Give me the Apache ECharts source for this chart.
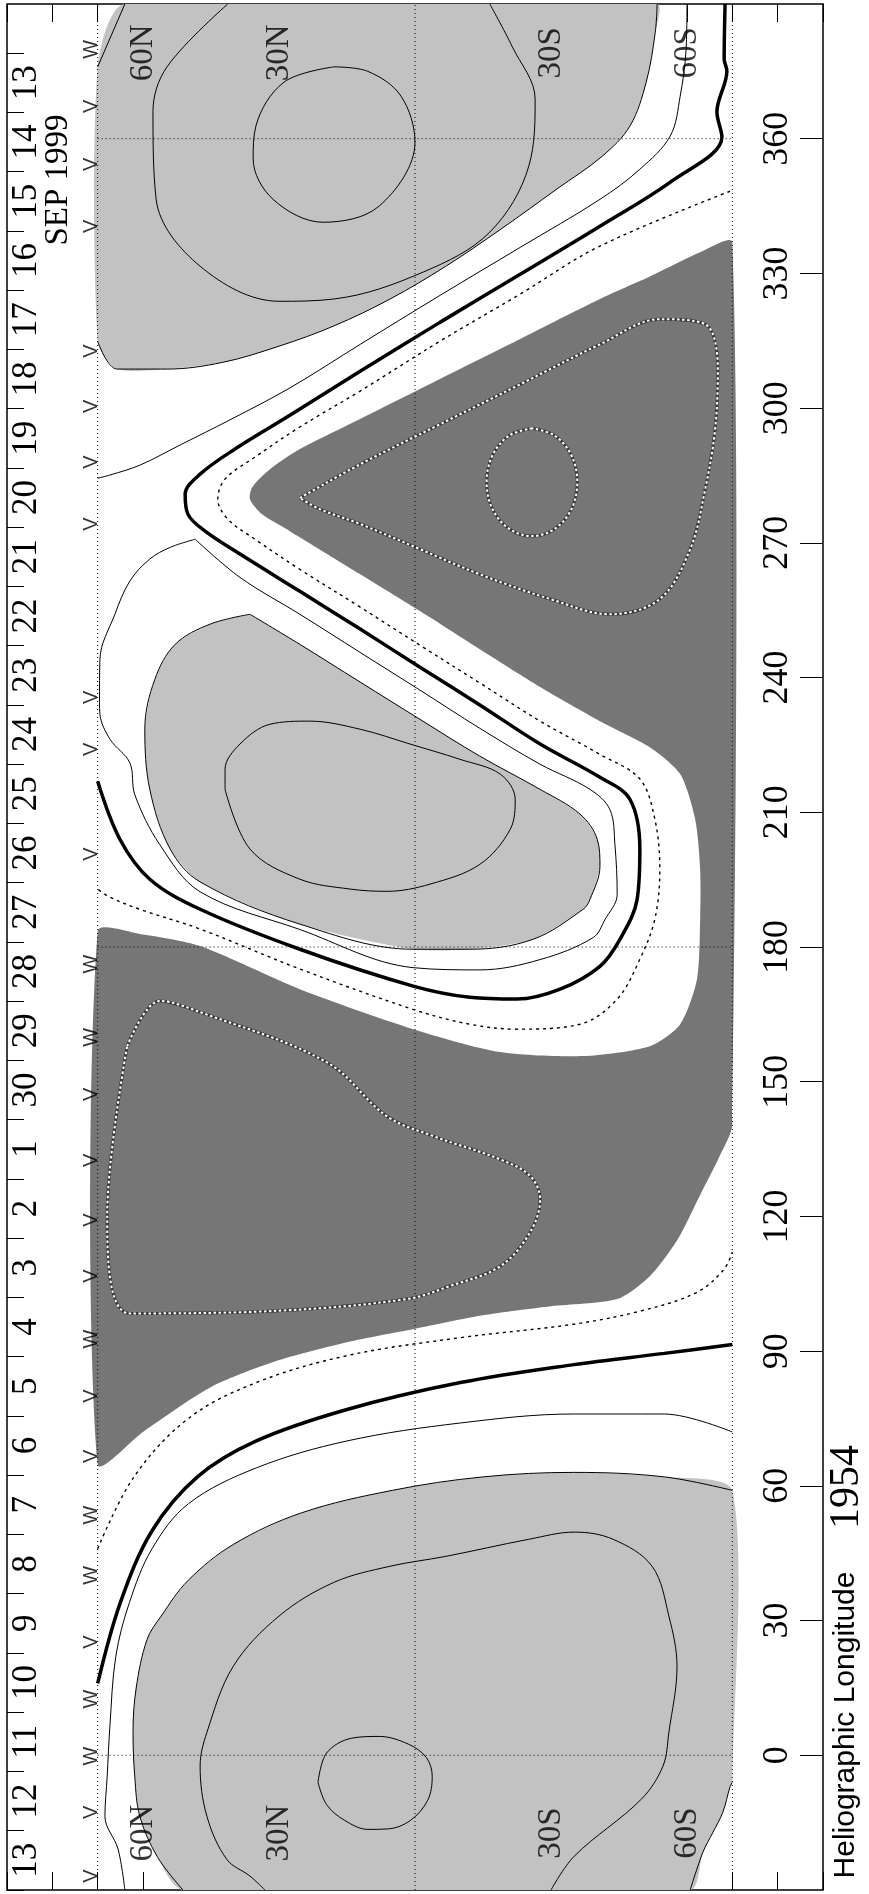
<!DOCTYPE html>
<html><head><meta charset="utf-8">
<script src="https://cdn.jsdelivr.net/npm/echarts@6/dist/echarts.min.js"></script>
<style>html,body{margin:0;padding:0;background:#fff}#c{width:869px;height:1894px}</style>
</head><body><div id="c"></div>
<script>
// ---- axis / label data ----
const lonTicks = [0,30,60,90,120,150,180,210,240,270,300,330,360];
const latLabelValues = [60,30,-30,-60];
const latLabelNames = ['60N','30N','30S','60S'];
const latLabelLon = [379.1,-17.3];   // top row, bottom row
const dateLabels = ['13','14','15','16','17','18','19','20','21','22','23','24','25','26','27','28','29','30','1','2','3','4','5','6','7','8','9','10','11','12','13'];
const markLon = [379.9,367.2,354.3,340.5,312.7,300.4,288,274.2,235.6,224,200.7,176.2,159.9,147.2,132.5,119.2,106.7,92.7,80,66.6,53.5,40.1,25.2,12.5,-0.2,-12.7,-26.9];
const markSym = ['W','V','V','V','V','V','V','V','V','V','V','W','W','V','V','V','V','W','V','V','W','W','V','W','W','V','V'];
const markLat = 71.3;

// ---- shaded regions [lat, lon] ----
const lightA = [[64,390],[-53.4,390],[-53,383.7],[-51,372.6],[-47.4,362.8],[-41.3,356.1],[-31.3,348.8],[-19,339.9],[-6.8,331.6],[5.5,324.3],[17.9,318.3],[30,313.8],[42.4,310.2],[54.7,308.7],[65.7,308.7],[70,314.9],[70,376]];
const lightB = [[36.4,254.1],[25.4,247.4],[12.1,239],[-1.1,230.7],[-14.3,222.5],[-27.6,215.1],[-36.4,209.6],[-40.2,204],[-40.8,198],[-38.6,190.6],[-37.1,188.4],[-26,181.7],[-12.1,179.5],[0.4,179.5],[25.4,185.1],[47.4,194.5],[54,201.8],[58.5,215.1],[59.6,228.5],[57.4,239.6],[52.9,247.4],[45.2,251.9],[36.4,254.1]];
const lightE = [[-70,59],[-55,62],[-35,63],[-15,62],[5,59],[25,54],[40,47],[50,39],[56,31],[59.1,25.8],[61.5,15],[62.2,5.1],[61.8,-5],[60.7,-13.6],[56.9,-22.5],[51.2,-30],[-60.7,-30],[-63.5,-21.6],[-65.7,-17.2],[-67.9,-12.7],[-69.5,-7],[-70,-6]];
const darkCD = [[-70,336.9],[-62.9,334.7],[-51.8,329.3],[-40.8,324.3],[-23.2,315.4],[-5.5,306.5],[12.1,297.6],[25.4,290.9],[32,286.4],[35.9,282.4],[36.4,279.7],[33.8,276.4],[27.6,272.6],[12.1,263],[-1.1,254.8],[-14.3,246.3],[-27.6,237.9],[-40.8,230.3],[-51.8,224.5],[-58.5,218.5],[-61.8,208.5],[-62.9,197.3],[-62.9,186.2],[-62.2,172.8],[-58.5,162.8],[-51.8,157.9],[-37.1,155.7],[-18.8,156.6],[0.4,161.7],[25.4,170.6],[47.4,180.2],[60.7,182.9],[70,183.5],[70,64.8],[60,72],[45,82],[30,88],[15,92],[0,95],[-15,98],[-30,100],[-44.6,101.6],[-51.8,106.7],[-58,115],[-63,125],[-67,133],[-70,140.5]];

// ---- contour lines [lat, lon] ----
const aEdgeLow = [[70,314.9],[65.7,308.7],[54.7,308.7],[42.4,310.2],[30,313.8],[17.9,318.3],[5.5,324.3],[-6.8,331.6],[-19,339.9],[-31.3,348.8],[-41.3,356.1],[-47.4,362.8],[-51,372.6],[-53,383.7],[-53.4,390]];
const aEdgeTop = [[70,376],[64,390]];
const aU = [[41.3,390],[54.7,376],[57.8,366],[57.1,346.5],[47.4,331.6],[30,323.8],[17.9,324.3],[-1.8,330.3],[-16.5,339.2],[-25.1,353.9],[-26.5,368.8],[-21.4,380.6],[-16.5,390]];
const aIn = [[17.9,376],[28.9,372.6],[35.1,362.8],[35.7,355.5],[31.3,346.5],[20.3,341.4],[7.9,345],[0,359.2],[3.1,369.5],[10.4,375],[17.9,376]];
const thin1 = [[-60,390],[-59.8,379.9],[-58.5,369.5],[-56.3,360.6],[-49.6,353.2],[-40.8,346.5],[-23.2,335.8],[-5.5,325.1],[12.1,314.2],[27.6,304.5],[40.8,297.4],[51.8,291.8],[60.7,287.3],[67.3,285.1],[70,284.4]];
const thick1 = [[-68.4,390],[-68.2,377.7],[-68.8,375.1],[-66.6,366],[-67.7,360.4],[-56.7,350.6],[-40.8,340.5],[-23.2,329.8],[-5.5,319.1],[12.1,308.2],[27.6,298.4],[39.7,290.9],[47.4,285.3],[50.7,280.8],[50.1,276.4],[46.3,272.6],[38.6,267.5],[25.4,259.2],[12.1,250.8],[-1.1,242.3],[-14.3,233.9],[-27.6,225.2],[-40.8,217.8],[-47.4,212.9],[-49.6,201.8],[-49,190.6],[-45.2,181.7],[-40.8,175.7],[-32,170.6],[-22.5,168.4],[-12.1,168.8],[0.4,171.3],[25.4,179.5],[47.4,188.4],[58.5,195.1],[65.1,204],[70,216.9]];
const dot1 = [[-69.5,348.3],[-40.8,336.1],[-23.2,325.4],[-5.5,314.9],[12.1,303.8],[25.4,295.8],[35.3,289.1],[41.9,284.2],[43.5,279.7],[41.3,275.3],[35.3,270.8],[25.4,264.1],[12.1,255.7],[-1.1,247.2],[-14.3,238.8],[-27.6,230.3],[-40.8,222.9],[-49.6,217.4],[-52.9,208.5],[-54,197.3],[-52.9,186.2],[-49.6,177.3],[-44.6,168.4],[-36.4,162.8],[-22.5,161.7],[-12.1,162.8],[0.4,166.1],[25.4,175.1],[47.4,184],[60.7,188.4],[67.3,191.1],[70,192.9]];
const thin2 = [[48.5,270.8],[38.6,262.3],[25.4,254.1],[12.1,245.6],[-1.1,237.2],[-14.3,228.7],[-27.6,220.7],[-38.6,215.1],[-43,210.6],[-44.1,202.8],[-44.6,191.7],[-41.9,186.1],[-39.3,182.1],[-27.6,177.2],[-14.3,174.9],[0.4,175.4],[25.4,183.9],[47.4,192.3],[56.3,202.8],[61.8,213.9],[62.9,221],[67.3,226.3],[69.5,231.8],[69.6,234.5],[69.5,244.1],[66.2,254.1],[62.9,261.5],[58.5,266.4],[54,269],[48.5,270.8]];
const bIn = [[41.9,215.1],[36.4,201.8],[25.4,195.1],[14.3,192.9],[6.2,192.4],[-3.3,194],[-14.3,198.4],[-21,206.2],[-22.1,212.9],[-18.8,218.5],[-9.9,221.8],[1.1,225.2],[12.1,228.5],[23.2,230.3],[32,229.6],[38.6,225.2],[41.9,219.6],[41.9,215.1]];
const cLoop = [[25.4,280],[12.1,287.5],[-5.5,296.4],[-23.2,305.3],[-40.8,314.2],[-54,319.8],[-64,318.7],[-66.8,308.7],[-66.2,295.3],[-64,281.9],[-60.7,268.6],[-54,257.5],[-43,254.1],[-29.8,257.5],[-14.3,263],[-1.1,268.6],[12.1,274.2],[21,277.5],[25.4,280]];
const cIn = [[-25.8,295.5],[-20.8,293.9],[-17.1,289.5],[-15.8,283.5],[-17.1,277.5],[-20.8,273.1],[-25.8,271.5],[-30.8,273.1],[-34.5,277.5],[-35.8,283.5],[-34.5,289.5],[-30.8,293.9],[-25.8,295.5]];
const dLoop = [[63.5,157.9],[56.3,168],[47.4,165.5],[19.4,154.3],[6.2,142.3],[-4,137.9],[-18.8,132.7],[-25.4,129],[-27.6,123.8],[-25.4,116.5],[-18.8,108.9],[-7.7,104.5],[1.8,101.6],[30,99],[62.9,98.4],[67.9,120],[63.5,157.9]];
const eEdge = [[-70,59],[-55,62],[-35,63],[-15,62],[5,59],[25,54],[40,47],[50,39],[56,31],[59.1,25.8],[61.5,15],[62.2,5.1],[61.8,-5],[60.7,-13.6],[56.9,-22.5],[51.2,-30]];
const eEdgeCorner = [[-60.7,-30],[-63.5,-21.6],[-65.7,-17.2],[-67.9,-12.7],[-69.5,-7],[-70,-6]];
const eU = [[33.1,-30],[36.4,-26.9],[41.5,-23.2],[45.9,-13.6],[47.4,-2.4],[45.9,5.1],[40.1,19.8],[30,31],[17.9,38.5],[5.5,42.1],[-6.8,44.3],[-25.1,48.1],[-35.1,49.7],[-43.7,48.1],[-52.3,42.1],[-56,31],[-57.8,19.8],[-56,5.1],[-54.7,-2.4],[-49.9,-9.8],[-35.1,-22.5],[-30,-30]];
const eIn = [[21.4,-6],[19.5,0.5],[14,3.8],[7.9,4.2],[1.5,2.5],[-2.5,-0.5],[-3.8,-4.7],[-2.8,-10],[1,-14.5],[6,-16.4],[10.4,-16.5],[15.5,-14.5],[19.5,-11],[21.4,-6]];
const thin3 = [[-70,72],[-55,76],[-35,76],[-10,74],[15,70],[35,64],[50,56],[58,46],[63,34],[66,22],[67.3,6.5],[67.9,-4.7],[68.4,-13.6],[65.5,-20.9],[64,-30]];
const thick2 = [[70,16],[65,34],[58,50],[48,62],[35,70],[15,77],[-10,83],[-35,87],[-55,89.5],[-70,91.5]];
const dot2 = [[70,46],[62,62],[50,75],[35,83],[15,89],[-10,93],[-35,96],[-50,99],[-62,103],[-68,108],[-70,112]];
// dotted reference grid: meridian / parallel positions
const gridLat = [70,0,-70];
const gridLon = [0,180,360];

// ---- styles ----
const LIGHT = '#c2c2c2', DARK = '#767676';
const thinS = {color:'#000', width:1};
const thickS = {color:'#000', width:3.5};
const dotS = {color:'#000', width:1.4, type:[3,4]};
const wBase = {color:'#3a3a3a', width:3};
const wDot = {color:'#fff', width:2, type:[2.5,2.5]};
const gridS = {color:'#000', width:1, type:[1,3]};
const SERIF = 'Liberation Serif';

function lineS(data, style, extra) {
  return Object.assign({type:'line', data, xAxisIndex:0, yAxisIndex:0, symbol:'none', showSymbol:false,
    smooth:0.35, lineStyle:style, silent:true, z:5, clip:true, animation:false}, extra || {});
}
function poly(data, fill) {
  return {type:'custom', data, xAxisIndex:0, yAxisIndex:0, clip:true, silent:true, z:1, animation:false,
    renderItem: function (params, api) {
      if (params.context.done) return;
      params.context.done = true;
      return {type:'polygon', shape:{points:data.map(p => api.coord(p)), smooth:0.25}, style:{fill:fill, stroke:null}};
    }};
}

const gridSeries = [];
gridLat.forEach(la => gridSeries.push(lineS([[la,-30],[la,390]], gridS, {smooth:false, z:3})));
gridLon.forEach(lo => gridSeries.push(lineS([[70,lo],[-70,lo]], gridS, {smooth:false, z:3})));

const latAxis = (pos) => ({
  type:'value', gridIndex:0, position:pos, min:-90, max:90, interval:10, inverse:true,
  axisLine:{show:false, onZero:false}, splitLine:{show:false},
  axisTick:{show:true, inside:true, length:18, lineStyle:{color:'#000', width:1}},
  axisLabel:{show:false}
});

const latLabelData = [];
latLabelLon.forEach(lon => latLabelValues.forEach((v,i) => latLabelData.push([v, lon, latLabelNames[i]])));

const option = {
  animation:false,
  backgroundColor:'#fff',
  grid:[
    {left:7, right:46, top:4, bottom:4, show:true, borderColor:'#000', borderWidth:1.5, backgroundColor:'transparent'},
    {left:7, width:45, top:53, bottom:4, show:false}
  ],
  xAxis:[ latAxis('bottom'), latAxis('top'),
    {type:'value', gridIndex:1, show:false, min:0, max:1, axisLine:{onZero:false}} ],
  yAxis:[
    {type:'value', gridIndex:0, position:'right', min:-30, max:390, interval:30,
      axisLine:{show:false, onZero:false}, splitLine:{show:false},
      axisTick:{show:true, inside:true, length:23, customValues:lonTicks, lineStyle:{color:'#000', width:1}},
      axisLabel:{show:true, inside:true, rotate:90, margin:27, customValues:lonTicks,
        fontFamily:SERIF, fontSize:36, color:'#000'}},
    {type:'category', gridIndex:1, position:'left', inverse:true,
      data:dateLabels.map((d,i)=>String(i)),
      axisLine:{show:false, onZero:false},
      axisTick:{show:true, inside:true, length:17, interval:0, lineStyle:{color:'#000', width:1}},
      axisLabel:{show:true, inside:true, rotate:90, margin:2, interval:0,
        formatter:(v)=>dateLabels[+v], fontFamily:SERIF, fontSize:35, color:'#000'}}
  ],
  graphic:[
    {type:'text', x:58, y:180, rotation:Math.PI/2, style:{text:'SEP 1999', fontFamily:SERIF, fontSize:33, fill:'#000', align:'center', verticalAlign:'middle'}},
    {type:'text', x:847, y:1487, rotation:Math.PI/2, style:{text:'1954', fontFamily:SERIF, fontSize:42, fill:'#000', align:'center', verticalAlign:'middle'}},
    {type:'text', x:846, y:1725, rotation:Math.PI/2, style:{text:'Heliographic Longitude', fontFamily:'Liberation Sans', fontSize:30, fill:'#000', align:'center', verticalAlign:'middle'}}
  ],
  series:[
    poly(lightA, LIGHT), poly(lightB, LIGHT), poly(lightE, LIGHT), poly(darkCD, DARK),
    ...gridSeries,
    lineS(aEdgeLow, thinS),
    lineS(aEdgeTop, thinS, {smooth:false}),
    lineS(aU, thinS), lineS(aIn, thinS),
    lineS(thin1, thinS), lineS(thick1, thickS), lineS(dot1, dotS), lineS(thin2, thinS),
    lineS(lightB, thinS), lineS(bIn, thinS),
    lineS(cLoop, wBase), lineS(cLoop, wDot), lineS(cIn, wBase), lineS(cIn, wDot),
    lineS(dLoop, wBase), lineS(dLoop, wDot),
    lineS(eEdge, thinS), lineS(eEdgeCorner, thinS), lineS(eU, thinS), lineS(eIn, thinS),
    lineS(thin3, thinS), lineS(thick2, thickS), lineS(dot2, dotS),
    {type:'scatter', xAxisIndex:0, yAxisIndex:0, symbolSize:0, silent:true, z:6,
      data:markLon.map((l,i)=>[markLat, l, markSym[i]]),
      label:{show:true, position:'inside', rotate:90, formatter:(p)=>p.value[2],
        fontFamily:'Liberation Sans', fontSize:20, color:'#000'}},
    {type:'scatter', xAxisIndex:0, yAxisIndex:0, symbolSize:0, silent:true, z:6,
      data:latLabelData,
      label:{show:true, position:'inside', rotate:90, formatter:(p)=>p.value[2],
        fontFamily:SERIF, fontSize:33, color:'#000'}}
  ]
};
const chart = echarts.init(document.getElementById('c'), null, {renderer:'canvas'});
chart.setOption(option);
</script></body></html>
